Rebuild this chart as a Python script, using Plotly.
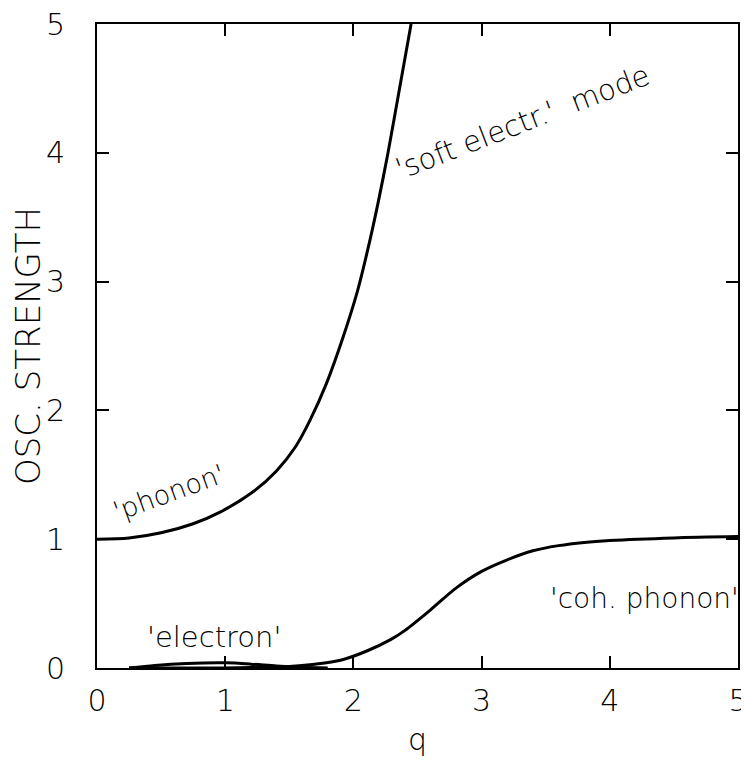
import plotly.graph_objects as go

# phonon / 'soft electr.' mode branch
ph_q = [0.0, 0.25, 0.5, 0.75, 0.96, 1.22, 1.40, 1.55, 1.66, 1.79, 1.92, 2.03, 2.11, 2.19, 2.27, 2.36, 2.45]
ph_s = [1.0, 1.01, 1.05, 1.12, 1.21, 1.37, 1.53, 1.72, 1.92, 2.21, 2.57, 2.92, 3.24, 3.60, 4.0, 4.5, 5.0]

# 'electron' bump
el_q = [0.25, 0.45, 0.7, 1.0, 1.2, 1.4, 1.6, 1.8]
el_s = [0.0, 0.02, 0.035, 0.04, 0.03, 0.015, 0.005, 0.0]

# 'coh. phonon' branch
co_q = [0.25, 0.8, 1.2, 1.5, 1.7, 1.9, 2.1, 2.29, 2.4, 2.6, 2.8, 3.0, 3.2, 3.4, 3.6, 3.8, 4.0, 4.5, 5.0]
co_s = [0.0, 0.0, 0.003, 0.012, 0.03, 0.06, 0.13, 0.22, 0.29, 0.45, 0.62, 0.75, 0.84, 0.91, 0.95, 0.975, 0.99, 1.01, 1.02]

tick_vals = [0, 1, 2, 3, 4, 5]
tick_text = ["0", "1", "2", "3", "4", "5"]

FONT = "DejaVu Sans"
WEIGHT = 200
line = dict(color="black", width=3, shape="spline", smoothing=0.8)

fig = go.Figure()
fig.add_trace(go.Scatter(x=ph_q, y=ph_s, mode="lines", line=line, hoverinfo="skip"))
fig.add_trace(go.Scatter(x=el_q, y=el_s, mode="lines", line=line, hoverinfo="skip"))
fig.add_trace(go.Scatter(x=co_q, y=co_s, mode="lines", line=line, hoverinfo="skip"))

labels = [
    dict(text="'phonon'", x=0.56, y=1.36, angle=-20, size=27),
    dict(text="'electron'", x=0.91, y=0.24, angle=0, size=29),
    dict(text="'soft electr.'  mode", x=3.32, y=4.24, angle=-21, size=29),
    dict(text="'coh. phonon'", x=4.27, y=0.54, angle=0, size=28),
]
for lb in labels:
    fig.add_annotation(x=lb["x"], y=lb["y"], text=lb["text"], textangle=lb["angle"],
                       showarrow=False,
                       font=dict(family=FONT, size=lb["size"], color="black", weight=WEIGHT))

axis_common = dict(
    range=[0, 5], tickvals=tick_vals, ticktext=tick_text,
    ticks="inside", ticklen=12, tickwidth=2, tickcolor="black",
    showline=True, linecolor="black", linewidth=2, mirror="ticks",
    showgrid=False, zeroline=False, automargin=False,
    ticklabeloverflow="allow",
    tickfont=dict(family=FONT, size=30, color="black", weight=WEIGHT),
)

fig.update_layout(
    width=741, height=756,
    margin=dict(l=89, r=11, t=16, b=96),
    plot_bgcolor="white", paper_bgcolor="white",
    showlegend=False,
    xaxis=dict(**axis_common, ticklabelstandoff=5,
               title=dict(text="q", standoff=12,
                          font=dict(family=FONT, size=30, color="black", weight=WEIGHT))),
    yaxis=dict(**axis_common, ticklabelstandoff=24,
               title=dict(text="OSC. STRENGTH", standoff=0,
                          font=dict(family=FONT, size=34, color="black", weight=WEIGHT))),
)

fig.write_html("out.html")
